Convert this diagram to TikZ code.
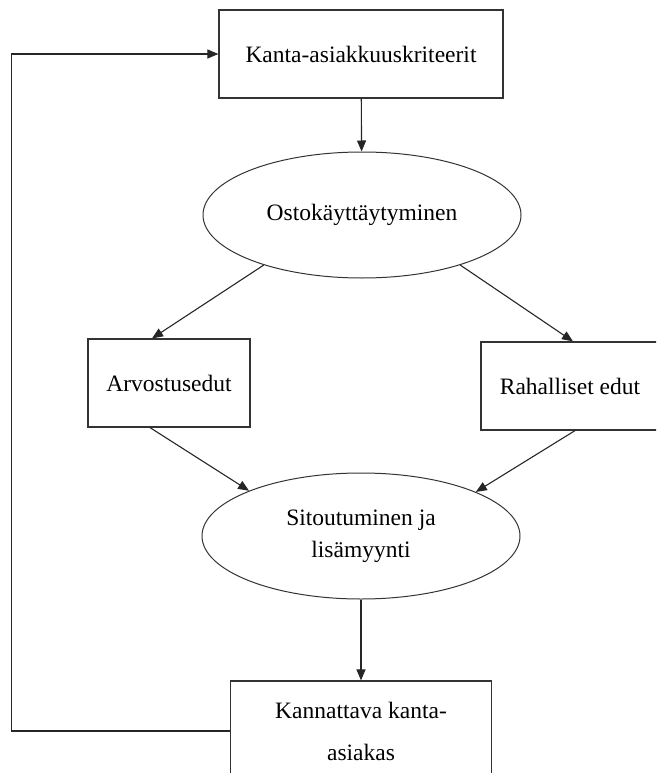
\documentclass[tikz,border=0pt]{standalone}
\usepackage{fontspec}
\setmainfont{Liberation Serif}
\usetikzlibrary{shapes.geometric,arrows.meta}

\begin{document}
\begin{tikzpicture}[x=1pt,y=1pt,
  font=\fontsize{23.5}{32}\selectfont,
  box/.style={draw=black!80,line width=1.2pt,rectangle,inner sep=0pt,align=center},
  oval/.style={draw=black!80,line width=1pt,ellipse,inner sep=0pt,align=center},
  arr/.style={draw=black!85,line width=1.1pt,-{Triangle[length=11pt,width=9pt]}}]
\useasboundingbox (0,0) rectangle (656,-773);
\clip (0,0) rectangle (656,-773);

\node[box,minimum width=284,minimum height=88](kriteerit) at (361,-54) {Kanta-asiakkuuskriteerit};
\node[oval,minimum width=318,minimum height=126](osto) at (362,-215) {Ostokäyttäytyminen};
\node[box,minimum width=162,minimum height=88](arvostus) at (169,-383) {Arvostusedut};
\node[box,minimum width=178,minimum height=88](raha) at (570,-386) {Rahalliset edut};
\node[oval,minimum width=318,minimum height=126](sitout) at (361,-536) {Sitoutuminen ja\\lisämyynti};
\node[box,minimum width=261,minimum height=100](kannattava) at (361,-731) {Kannattava kanta-\\[10pt]asiakas};

\draw[arr](kriteerit)--(osto);
\draw[arr](osto.207)--([xshift=-17pt]arvostus.north);
\draw[arr](osto.333)--([xshift=3pt]raha.north);
\draw[arr]([xshift=-19pt]arvostus.south)--(sitout.158);
\draw[arr]([xshift=5pt]raha.south)--(sitout.21);
\draw[arr](sitout)--(kannattava);
\draw[arr](kannattava.west)--++(-218,0)|-(kriteerit.west);

\end{tikzpicture}
\end{document}
